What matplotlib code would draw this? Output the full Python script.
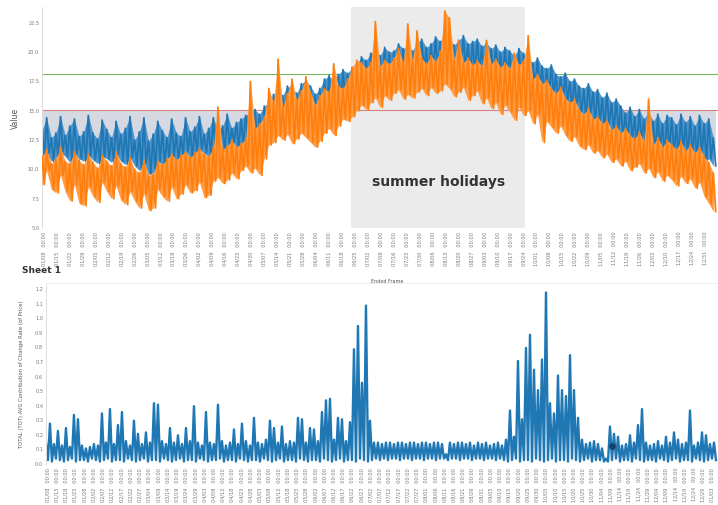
import numpy as np
import pandas as pd
import matplotlib
matplotlib.use("Agg")
import matplotlib.pyplot as plt
import matplotlib.dates as mdates

# ---- top panel: per-step high / low of the two series ----
blue_hi = [13.2, 14.3, 12.6, 13.0, 14.4, 12.8, 13.6, 14.2, 12.7, 13.1,
           14.5, 13.0, 12.5, 14.1, 13.3, 12.6, 14.0, 12.9, 13.4, 14.4,
           12.4, 13.1, 14.3, 12.3, 12.9, 14.0, 13.2, 12.6, 14.2, 13.0,
           12.7, 14.3, 13.1, 13.5, 14.4, 12.9, 13.4, 14.3, 13.2, 13.6,
           14.6, 13.4, 13.9, 14.2, 14.5, 14.8, 15.0, 14.6, 15.3, 15.6,
           16.3, 16.6, 16.2, 17.0, 16.8, 16.4, 17.2, 17.5, 17.0, 16.3,
           16.8, 17.6, 17.9, 17.4, 18.0, 18.4, 18.1, 18.6, 18.9, 19.5,
           19.2, 19.8, 20.1, 19.6, 20.3, 19.9, 20.0, 20.6, 20.2, 20.4,
           20.0, 20.7, 21.0, 20.3, 20.6, 21.2, 20.8, 21.6, 21.1, 20.5,
           20.9, 21.3, 20.6, 20.8, 21.0, 20.4, 20.7, 20.2, 20.5, 19.9,
           20.3, 20.0, 19.6, 20.2, 19.8, 19.3, 19.0, 19.4, 18.7, 18.5,
           18.8, 18.0, 17.8, 18.1, 17.4, 17.6, 17.0, 16.8, 17.2, 16.5,
           16.7, 16.0, 16.4, 15.6, 15.9, 15.3, 14.7, 15.2, 14.4, 15.0,
           14.2, 14.8, 14.0, 14.6, 13.8, 14.5, 14.3, 13.7, 14.6, 13.9,
           14.4, 13.6, 14.5, 13.8, 14.2, 12.6]
blue_lo = [11.0, 11.3, 10.6, 10.9, 11.4, 11.0, 10.5, 11.2, 10.8, 10.6,
           11.1, 10.7, 10.4, 11.0, 10.8, 10.5, 11.2, 10.6, 10.3, 10.9,
           10.2, 9.8, 10.4, 9.5, 9.6, 10.6, 10.3, 10.8, 11.0, 10.7,
           11.1, 11.4, 10.9, 11.2, 11.6, 11.3, 11.0, 11.6, 11.9, 11.5,
           11.8, 12.2, 11.7, 12.0, 12.3, 12.1, 12.4, 12.0, 12.6, 13.2,
           13.6, 14.2, 14.0, 14.4, 14.1, 13.8, 14.6, 14.9, 14.5, 13.6,
           13.9, 14.8, 15.2, 15.0, 15.5, 15.8, 15.4, 15.9, 16.4, 16.8,
           16.6, 17.0, 17.3, 16.9, 17.4, 17.2, 17.6, 17.8, 17.5, 17.7,
           17.6, 17.9, 18.2, 17.8, 18.0, 18.3, 18.1, 18.6, 18.4, 18.0,
           18.2, 18.5, 17.9, 18.1, 18.3, 17.7, 18.0, 17.6, 17.9, 17.4,
           17.7, 17.3, 17.0, 17.6, 17.2, 16.9, 16.6, 16.8, 16.2, 16.0,
           16.3, 15.6, 15.4, 15.7, 15.0, 15.2, 14.6, 14.3, 14.7, 13.9,
           14.0, 13.4, 13.7, 13.0, 13.2, 12.6, 12.1, 12.5, 11.8, 12.2,
           11.6, 12.0, 11.3, 11.7, 11.0, 11.5, 11.2, 10.8, 11.4, 10.9,
           11.2, 10.6, 11.0, 10.5, 10.8, 10.2]
orange_hi = [11.0, 11.6, 10.4, 10.8, 11.8, 10.6, 10.4, 11.4, 10.7, 10.3,
             11.2, 10.5, 10.0, 11.1, 10.6, 10.2, 11.4, 10.4, 10.1, 10.9,
             9.9, 9.6, 10.7, 9.4, 9.5, 10.6, 10.3, 10.8, 11.2, 10.7,
             11.1, 11.4, 10.9, 11.3, 11.7, 11.2, 11.0, 11.8, 15.2, 11.6,
             11.9, 12.4, 11.8, 12.1, 12.5, 17.4, 13.4, 13.8, 14.4, 16.8,
             15.6, 19.3, 15.2, 16.4, 17.6, 15.8, 16.6, 17.8, 16.5, 15.4,
             16.2, 16.8, 16.5, 18.9, 17.0, 16.8, 17.6, 18.6, 19.2, 19.0,
             18.5, 19.0, 22.5, 18.7, 19.2, 18.9, 19.4, 20.2, 19.0, 22.3,
             19.2, 21.7, 19.4, 18.9, 19.6, 19.1, 20.0, 23.4, 22.8, 19.3,
             20.9, 19.0, 19.4, 18.8, 19.2, 18.7, 20.9, 18.9, 19.3, 18.6,
             19.0, 18.5, 19.8, 18.8, 19.2, 21.3, 17.6, 18.0, 17.2, 17.5,
             16.8, 16.4, 16.9, 16.0, 15.6, 15.9, 15.0, 14.6, 15.1, 14.2,
             14.4, 13.8, 14.1, 13.3, 13.6, 13.0, 13.4, 12.8, 12.5, 13.1,
             12.3, 15.9, 12.0, 12.6, 11.8, 12.4, 12.0, 11.6, 12.3, 11.5,
             12.0, 11.3, 11.8, 11.0, 10.5, 9.6]
orange_lo = [8.6, 9.8, 8.2, 7.9, 9.4, 8.0, 7.2, 8.6, 7.0, 6.8,
             8.4, 7.6, 7.1, 8.8, 8.0, 7.4, 8.5, 7.3, 6.9, 8.0,
             7.2, 6.6, 7.8, 6.4, 6.6, 8.2, 7.6, 7.2, 8.4, 7.4,
             7.8, 8.6, 7.9, 8.1, 8.8, 7.5, 7.7, 8.9, 9.2, 8.7,
             9.0, 9.6, 9.1, 9.8, 10.2, 9.6, 10.0, 9.4, 10.8, 12.0,
             12.2, 12.8, 12.4, 12.9, 12.1, 12.5, 13.0, 12.6, 12.2, 11.8,
             12.3, 13.0, 13.4, 12.8, 13.6, 14.2, 14.0, 14.4, 14.9, 15.4,
             15.0, 15.6, 16.0, 15.2, 16.2, 15.8, 16.4, 16.7, 15.9, 16.3,
             16.0, 16.5, 16.8, 16.2, 16.9, 16.4, 16.6, 17.2, 16.8, 16.1,
             16.5, 16.9, 15.8, 16.2, 16.6, 15.5, 16.0, 15.1, 15.6, 14.6,
             15.4, 14.8, 14.1, 15.2, 14.5, 14.9, 13.8, 14.6, 12.2, 14.0,
             13.5, 13.0, 13.6, 12.8, 12.3, 12.7, 11.9, 11.6, 12.0, 11.3,
             11.5, 10.9, 11.2, 10.5, 10.8, 10.2, 10.6, 9.8, 10.1, 10.4,
             9.6, 10.0, 9.2, 9.7, 8.9, 9.4, 9.0, 8.5, 9.3, 8.7,
             9.1, 8.3, 8.8, 7.6, 7.0, 6.3]

red_level = 15.0
green_level = 18.0
shade_floor = 11.0
summer = ("2019-06-23", "2019-09-25")
shade_spans = [("2019-01-07", "2019-04-29"), ("2019-11-11", "2020-01-06")]

# ---- bottom panel ----
rate_hi = [0.14, 0.27, 0.13, 0.22, 0.12, 0.24, 0.11, 0.33, 0.30, 0.12, 0.10, 0.11,
           0.13, 0.12, 0.34, 0.14, 0.37, 0.13, 0.26, 0.35, 0.15, 0.12, 0.29, 0.20,
           0.13, 0.21, 0.14, 0.41, 0.40, 0.15, 0.13, 0.24, 0.14, 0.19, 0.13, 0.24,
           0.15, 0.39, 0.14, 0.12, 0.35, 0.14, 0.13, 0.40, 0.15, 0.12, 0.14, 0.23,
           0.13, 0.27, 0.15, 0.12, 0.31, 0.14, 0.13, 0.16, 0.29, 0.24, 0.14, 0.25,
           0.13, 0.15, 0.14, 0.31, 0.30, 0.14, 0.24, 0.23, 0.15, 0.35, 0.43, 0.44,
           0.16, 0.31, 0.30, 0.15, 0.28, 0.78, 0.94, 0.55, 1.08, 0.29, 0.14, 0.14,
           0.13, 0.14, 0.14, 0.13, 0.14, 0.14, 0.13, 0.14, 0.14, 0.13, 0.14, 0.14,
           0.13, 0.14, 0.14, 0.13, 0.06, 0.14, 0.13, 0.14, 0.14, 0.13, 0.14, 0.12,
           0.14, 0.13, 0.14, 0.12, 0.13, 0.14, 0.12, 0.16, 0.36, 0.18, 0.70, 0.30,
           0.79, 0.88, 0.64, 0.50, 0.71, 1.17, 0.41, 0.34, 0.60, 0.50, 0.46, 0.74,
           0.50, 0.31, 0.16, 0.13, 0.14, 0.15, 0.13, 0.10, 0.03, 0.25, 0.20, 0.18,
           0.12, 0.13, 0.19, 0.14, 0.26, 0.37, 0.14, 0.12, 0.13, 0.15, 0.12, 0.18,
           0.14, 0.21, 0.16, 0.13, 0.14, 0.36, 0.12, 0.14, 0.21, 0.19, 0.13, 0.14]
rate_lo = [0.02, 0.01, 0.03, 0.02, 0.01, 0.02, 0.03, 0.01, 0.02, 0.02, 0.01, 0.03,
           0.02, 0.01, 0.02, 0.03, 0.01, 0.02, 0.02, 0.01, 0.03, 0.02, 0.01, 0.02,
           0.03, 0.01, 0.02, 0.02, 0.01, 0.03, 0.02, 0.01, 0.02, 0.03, 0.01, 0.02,
           0.02, 0.01, 0.03, 0.02, 0.01, 0.02, 0.02, 0.03, 0.01, 0.02, 0.02, 0.01,
           0.03, 0.02, 0.01, 0.02, 0.02, 0.01, 0.03, 0.02, 0.01, 0.02, 0.03, 0.01,
           0.02, 0.02, 0.01, 0.03, 0.02, 0.01, 0.02, 0.02, 0.01, 0.03, 0.02, 0.01,
           0.02, 0.03, 0.01, 0.02, 0.02, 0.01, 0.03, 0.02, 0.01, 0.02, 0.03, 0.02,
           0.03, 0.02, 0.03, 0.03, 0.02, 0.03, 0.03, 0.02, 0.03, 0.03, 0.02, 0.03,
           0.03, 0.02, 0.03, 0.03, 0.02, 0.03, 0.03, 0.02, 0.03, 0.03, 0.02, 0.03,
           0.03, 0.02, 0.03, 0.03, 0.02, 0.03, 0.02, 0.01, 0.02, 0.03, 0.01, 0.02,
           0.02, 0.01, 0.03, 0.02, 0.01, 0.02, 0.03, 0.01, 0.02, 0.02, 0.01, 0.03,
           0.02, 0.01, 0.02, 0.03, 0.01, 0.02, 0.02, 0.01, 0.01, 0.02, 0.03, 0.01,
           0.02, 0.02, 0.01, 0.03, 0.02, 0.01, 0.02, 0.02, 0.01, 0.03, 0.02, 0.01,
           0.02, 0.03, 0.01, 0.02, 0.02, 0.01, 0.03, 0.02, 0.01, 0.02, 0.03, 0.02]
marked_step = 141
marked_value = 0.12

BLUE = "#1f77b4"
BLUE_TINT = "#4f95cb"
ORANGE = "#ff7f0e"
ORANGE_TINT = "#ff9c44"
start = pd.Timestamp("2019-01-07")


def zigzag(t0, step, hi, lo):
    """interleave highs and lows so each step draws one up/down stroke"""
    t = pd.date_range(t0, periods=len(hi), freq=step)
    tt = np.empty(2 * len(hi), dtype="datetime64[ns]")
    tt[0::2] = t.values
    tt[1::2] = (t + step / 2).values
    vv = np.empty(2 * len(hi))
    vv[0::2] = hi
    vv[1::2] = lo
    return tt, vv


def draw_trace(ax, t0, step, hi, lo, color, tint, z, lw=1.3):
    # optional light min/max envelope under the up/down trace
    if tint is not None:
        t = pd.date_range(t0, periods=len(hi), freq=step)
        ax.fill_between(t, lo, hi, color=tint, lw=0, zorder=z)
    tt, vv = zigzag(t0, step, hi, lo)
    ax.plot(tt, vv, color=color, lw=lw, zorder=z)


fig = plt.figure(figsize=(7.18, 5.06), dpi=100)
ax1 = fig.add_axes([0.0585, 0.5474, 0.9415, 0.4368])
ax2 = fig.add_axes([0.064, 0.081, 0.936, 0.3577])

# top panel
step_top = pd.Timedelta(hours=60)
end_top = start + step_top * len(blue_hi)
ax1.axvspan(pd.Timestamp(summer[0]), pd.Timestamp(summer[1]), color="#ebebeb", lw=0, zorder=0)
for a, b in shade_spans:
    ax1.fill_between([pd.Timestamp(a), pd.Timestamp(b)], shade_floor, red_level,
                     color="#d6d9e2", lw=0, zorder=0.5)
ax1.axhline(red_level, color="#d98080", lw=0.8, zorder=1)
ax1.axhline(green_level, color="#7cb85c", lw=0.8, zorder=1)
draw_trace(ax1, start, step_top, blue_hi, blue_lo, BLUE, BLUE_TINT, 2)
draw_trace(ax1, start, step_top, orange_hi, orange_lo, ORANGE, ORANGE_TINT, 3)
ax1.text(pd.Timestamp("2019-08-09"), 8.9, "summer holidays", ha="center", va="center",
         fontsize=10, fontweight="bold", color="#333333", zorder=4)
ax1.set_xlim(start, end_top)
ax1.set_ylim(4.9, 23.75)
ax1.set_yticks(np.arange(5.0, 23.0, 2.5))
ax1.yaxis.set_major_formatter(plt.FormatStrFormatter("%.1f"))
ax1.set_ylabel("Value", fontsize=5.5, color="#555555", labelpad=6)
top_ticks = pd.date_range(start + pd.Timedelta(days=1), periods=52, freq="7D")
ax1.set_xticks(top_ticks)
ax1.xaxis.set_major_formatter(mdates.DateFormatter("%m/%d   %H:%M"))

# bottom panel
step_bot = pd.Timedelta(hours=52)
end_bot = start + step_bot * len(rate_hi)
draw_trace(ax2, start, step_bot, rate_hi, rate_lo, BLUE, None, 2, lw=1.7)
ax2.scatter([start + step_bot * (marked_step + 0.5)], [marked_value], s=14,
            color="#1a3f6b", zorder=3)
ax2.set_xlim(start, end_bot)
ax2.set_ylim(-0.007, 1.235)
ax2.set_yticks(np.arange(0, 1.21, 0.1))
ax2.yaxis.set_major_formatter(plt.FormatStrFormatter("%.1f"))
ax2.set_ylabel("TOTAL (TOT) AVG Contribution of Change Rate (of Price)", fontsize=3.8,
               color="#555555", labelpad=8)
bot_ticks = pd.date_range(start + pd.Timedelta(days=1), periods=73, freq="5D")
ax2.set_xticks(bot_ticks)
ax2.xaxis.set_major_formatter(mdates.DateFormatter("%m/%d   %H:%M"))

for ax in (ax1, ax2):
    for side in ("top", "right", "bottom"):
        ax.spines[side].set_visible(False)
    ax.spines["left"].set_color("#dddddd")
    ax.spines["left"].set_linewidth(0.7)
    ax.tick_params(axis="both", length=0, colors="#777777", labelsize=3.6, pad=2)
    ax.tick_params(axis="x", labelrotation=90)
ax2.spines["top"].set_visible(True)
ax2.spines["top"].set_color("#eeeeee")
ax2.spines["top"].set_linewidth(0.6)

fig.text(0.031, 0.466, "Sheet 1", fontsize=6.5, fontweight="bold", color="#333333",
         va="center")
fig.text(0.539, 0.443, "Ended Frame", fontsize=3.5, color="#555555", ha="center",
         va="center")

fig.savefig("out.png", dpi=100)
